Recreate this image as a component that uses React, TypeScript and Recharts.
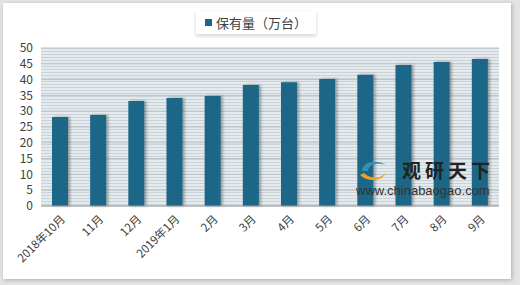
import { Bar, BarChart, CartesianGrid, XAxis, YAxis } from "recharts";

const months = ["2018年10月", "11月", "12月", "2019年1月", "2月", "3月", "4月", "5月", "6月", "7月", "8月", "9月"];
const holdings = [28.2, 28.8, 33.2, 34.2, 34.8, 38.3, 39.2, 40.2, 41.5, 44.6, 45.6, 46.5];
const yTicks = [0, 5, 10, 15, 20, 25, 30, 35, 40, 45, 50];

const data = months.map((m, i) => ({ month: m, value: holdings[i] }));

const BAR = "#1b6688";

export default function App() {
  return (
    <div
      style={{
        position: "fixed",
        left: 0,
        top: 0,
        width: 520,
        height: 285,
        background: "#e4e4e4",
        fontFamily: "'Noto Sans CJK SC', sans-serif",
      }}
    >
      <div
        style={{
          position: "absolute",
          left: 3,
          top: 3,
          width: 508,
          height: 276,
          background: "#fff",
          boxShadow: "1px 1px 4px rgba(0,0,0,0.25)",
        }}
      />
      <div style={{ position: "absolute", left: 0, top: 0 }}>
        <BarChart width={520} height={285} data={data} margin={{ top: 48, right: 21, bottom: 19, left: 0 }} barCategoryGap={11}>
          <defs>
            <pattern id="stripes" width="4" height="3" patternUnits="userSpaceOnUse">
              <rect width="4" height="3" fill="#e4eaed" />
              <rect width="4" height="1" fill="#cad3d8" />
            </pattern>
            <filter id="shadow" x="-30%" y="-5%" width="160%" height="110%">
              <feDropShadow dx="2" dy="0" stdDeviation="1.5" floodColor="#000" floodOpacity="0.35" />
            </filter>
          </defs>
          <CartesianGrid fill="url(#stripes)" stroke="#b9c3c9" vertical={false} />
          <XAxis
            dataKey="month"
            interval={0}
            angle={-45}
            textAnchor="end"
            height={60}
            tick={{ fill: "#404040", fontSize: 11.5 }}
            tickLine={false}
            axisLine={{ stroke: "#a0a0a0" }}
          />
          <YAxis
            domain={[0, 50]}
            ticks={yTicks}
            interval={0}
            width={41}
            tick={{ fill: "#404040", fontSize: 12 }}
            tickLine={false}
            axisLine={false}
          />
          <Bar dataKey="value" fill={BAR} filter="url(#shadow)" isAnimationActive={false} />
        </BarChart>
      </div>
      <div
        style={{
          position: "absolute",
          left: 196,
          top: 11,
          display: "flex",
          alignItems: "center",
          background: "#fff",
          padding: "2px 9px",
          boxShadow: "0 2px 4px rgba(0,0,0,0.18)",
          fontSize: 13,
          color: "#404040",
        }}
      >
        <span style={{ width: 7, height: 7, background: BAR, display: "inline-block", marginRight: 4 }} />
        保有量（万台）
      </div>
      <div style={{ position: "absolute", left: 356, top: 157, pointerEvents: "none" }}>
        <div style={{ display: "flex", alignItems: "center", height: 26 }}>
          <svg width="36" height="26" viewBox="0 0 32 26">
            <path d="M4 14 C4 4 20 2 28 8 C20 5 10 7 10 14 Z" fill="#3a8fb0" />
            <path d="M2 18 C10 26 24 24 28 16 C22 22 12 22 6 16 Z" fill="#f0a020" />
          </svg>
          <span style={{ fontSize: 19, lineHeight: "22px", fontWeight: 700, color: "#222", letterSpacing: 4, marginLeft: 10 }}>观研天下</span>
        </div>
        <div style={{ fontSize: 13, lineHeight: "14px", color: "#333", fontFamily: "Arial, 'Liberation Sans', sans-serif", marginTop: 1 }}>
          www.chinabaogao.com
        </div>
      </div>
    </div>
  );
}
